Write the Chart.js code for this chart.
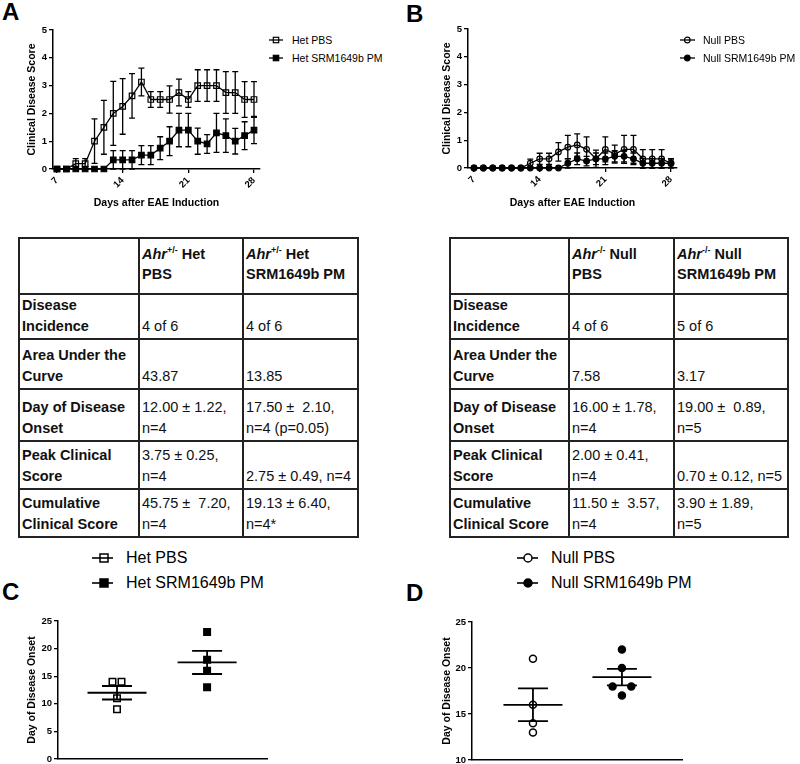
<!DOCTYPE html>
<html>
<head>
<meta charset="utf-8">
<script src="https://cdn.jsdelivr.net/npm/chart.js@4.4.0/dist/chart.umd.min.js"></script>
<style>
  body { margin: 0; background: #fff; font-family: "Liberation Sans", Arial, sans-serif; color: #000; }
  #page { position: relative; width: 800px; height: 764px; overflow: hidden; }
  canvas { position: absolute; }
  .lbl { position: absolute; font-weight: bold; font-size: 24px; line-height: 24px; }
  .leg { position: absolute; white-space: nowrap; }
  .t10 { font-size: 10.5px; line-height: 12px; }
  .t16 { font-size: 16px; line-height: 18px; }
  table { position: absolute; border-collapse: collapse; table-layout: fixed; font-size: 14.5px; color: #111; }
  td { border: 2px solid #222; vertical-align: bottom; padding: 0 0 2px 2px; line-height: 20.7px; white-space: pre; overflow: hidden; }
  td.b { font-weight: bold; }
  tr.hd td { padding-bottom: 8px; }
  sup { font-size: 9px; line-height: 0; vertical-align: 6px; }
</style>
</head>
<body>
<div id="page">
  <div class="lbl" style="left:2px;top:0px">A</div>
  <div class="lbl" style="left:406px;top:2px">B</div>
  <div class="lbl" style="left:2px;top:580px">C</div>
  <div class="lbl" style="left:406px;top:581px">D</div>

  <canvas id="chartA" width="268" height="215" style="left:0;top:0"></canvas>
  <canvas id="chartB" width="290" height="215" style="left:400px;top:0"></canvas>
  <canvas id="chartC" width="280" height="160" style="left:0;top:610px"></canvas>
  <canvas id="chartD" width="290" height="160" style="left:400px;top:610px"></canvas>

  <svg class="leg" style="left:269px;top:35px" width="14" height="10"><line x1="0" y1="5" x2="14" y2="5" stroke="#000" stroke-width="1.3"/><rect x="4.3" y="2.3" width="5.4" height="5.4" fill="none" stroke="#000" stroke-width="1.2"/></svg>
  <div class="leg t10" id="legA1" style="left:292px;top:33.5px"></div>
  <svg class="leg" style="left:269px;top:53px" width="14" height="10"><line x1="0" y1="5" x2="14" y2="5" stroke="#000" stroke-width="1.3"/><rect x="4.3" y="2.3" width="5.4" height="5.4" fill="#000" stroke="#000" stroke-width="1.2"/></svg>
  <div class="leg t10" id="legA2" style="left:292px;top:51.5px"></div>

  <svg class="leg" style="left:680px;top:35px" width="15" height="10"><line x1="0" y1="5" x2="15" y2="5" stroke="#000" stroke-width="1.3"/><circle cx="7.3" cy="5" r="2.8" fill="none" stroke="#000" stroke-width="1.2"/></svg>
  <div class="leg t10" id="legB1" style="left:703px;top:33.5px"></div>
  <svg class="leg" style="left:680px;top:53px" width="15" height="10"><line x1="0" y1="5" x2="15" y2="5" stroke="#000" stroke-width="1.3"/><circle cx="7.3" cy="5" r="2.8" fill="#000" stroke="#000" stroke-width="1.2"/></svg>
  <div class="leg t10" id="legB2" style="left:703px;top:51.5px"></div>

  <svg class="leg" style="left:92px;top:551.5px" width="22" height="12"><line x1="0" y1="6" x2="21" y2="6" stroke="#000" stroke-width="1.6"/><rect x="8" y="2" width="8" height="8" fill="none" stroke="#000" stroke-width="1.5"/></svg>
  <div class="leg t16" id="legC1" style="left:126px;top:548.7px"></div>
  <svg class="leg" style="left:92px;top:577px" width="22" height="12"><line x1="0" y1="6" x2="21" y2="6" stroke="#000" stroke-width="1.6"/><rect x="8" y="2" width="8" height="8" fill="#000" stroke="#000" stroke-width="1.5"/></svg>
  <div class="leg t16" id="legC2" style="left:126px;top:574.2px"></div>

  <svg class="leg" style="left:517px;top:551.5px" width="22" height="12"><line x1="0" y1="6" x2="21" y2="6" stroke="#000" stroke-width="1.6"/><circle cx="11" cy="6" r="4" fill="#fff" stroke="#000" stroke-width="1.5"/></svg>
  <div class="leg t16" id="legD1" style="left:551px;top:548.7px"></div>
  <svg class="leg" style="left:517px;top:577px" width="22" height="12"><line x1="0" y1="6" x2="21" y2="6" stroke="#000" stroke-width="1.6"/><circle cx="11" cy="6" r="4" fill="#000" stroke="#000" stroke-width="1.5"/></svg>
  <div class="leg t16" id="legD2" style="left:551px;top:574.2px"></div>

  <table id="tableA" style="left:18px;top:237px;width:339px"></table>
  <table id="tableB" style="left:449px;top:237px;width:338px"></table>
</div>

<script>
// ---- data ----
const days = [7, 8, 9, 10, 11, 12, 13, 14, 15, 16, 17, 18, 19, 20, 21, 22, 23, 24, 25, 26, 27, 28];
const dayTicks = [7, 14, 21, 28];
const scoreTicks = [0, 1, 2, 3, 4, 5];

const hetPbs    = [0, 0, 0.19, 0.19, 1.0, 1.5, 2.0, 2.25, 2.63, 3.13, 2.5, 2.5, 2.5, 2.75, 2.5, 3.0, 3.0, 3.0, 2.75, 2.75, 2.5, 2.5];
const hetPbsErr = [0, 0, 0.18, 0.18, 0.8, 0.97, 1.15, 1.0, 0.8, 0.5, 0.28, 0.28, 0.49, 0.48, 0.28, 0.57, 0.57, 0.57, 0.75, 0.75, 0.64, 0.64];
const hetPm     = [0, 0, 0, 0, 0, 0, 0.33, 0.33, 0.33, 0.5, 0.5, 0.75, 1.0, 1.4, 1.4, 1.0, 0.9, 1.3, 1.2, 1.0, 1.2, 1.4];
const hetPmErr  = [0, 0, 0, 0, 0, 0, 0.33, 0.33, 0.33, 0.34, 0.34, 0.41, 0.52, 0.6, 0.6, 0.47, 0.34, 0.7, 0.6, 0.46, 0.5, 0.49];

const nullPbs    = [0, 0, 0, 0, 0, 0, 0.17, 0.33, 0.33, 0.58, 0.75, 0.83, 0.67, 0.33, 0.67, 0.5, 0.67, 0.67, 0.33, 0.33, 0.33, 0.17];
const nullPbsErr = [0, 0, 0, 0, 0, 0, 0.15, 0.2, 0.2, 0.33, 0.42, 0.4, 0.45, 0.31, 0.45, 0.32, 0.5, 0.5, 0.33, 0.33, 0.33, 0.15];
const nullPm     = [0, 0, 0, 0, 0, 0, 0, 0, 0, 0, 0.17, 0.33, 0.25, 0.33, 0.33, 0.42, 0.42, 0.33, 0.17, 0.17, 0.17, 0.17];
const nullPmErr  = [0, 0, 0, 0, 0, 0, 0, 0, 0, 0, 0.17, 0.21, 0.17, 0.21, 0.21, 0.2, 0.2, 0.21, 0.17, 0.17, 0.17, 0.17];

const onsetHetPbs  = [14, 14, 11, 9];
const onsetHetPm   = [23, 18, 16, 13];
const onsetNullPbs = [21, 16, 14, 13];
const onsetNullPm  = [22, 20, 18, 18, 17];
const onsetTicksHet  = [0, 5, 10, 15, 20, 25];
const onsetTicksNull = [10, 15, 20, 25];

const hetNames  = ['Het PBS', 'Het SRM1649b PM'];
const nullNames = ['Null PBS', 'Null SRM1649b PM'];

const rowNames = ['Disease\nIncidence', 'Area Under the\nCurve', 'Day of Disease\nOnset', 'Peak Clinical\nScore', 'Cumulative\nClinical Score'];
const hetPbsCells  = ['4 of 6', '43.87', '12.00 ± 1.22,\nn=4', '3.75 ± 0.25,\nn=4', '45.75 ±  7.20,\nn=4'];
const hetPmCells   = ['4 of 6', '13.85', '17.50 ±  2.10,\nn=4 (p=0.05)', '2.75 ± 0.49, n=4', '19.13 ± 6.40,\nn=4*'];
const nullPbsCells = ['4 of 6', '7.58', '16.00 ± 1.78,\nn=4', '2.00 ± 0.41,\nn=4', '11.50 ±  3.57,\nn=4'];
const nullPmCells  = ['5 of 6', '3.17', '19.00 ±  0.89,\nn=5', '0.70 ± 0.12, n=5', '3.90 ± 1.89,\nn=5'];

// ---- shared look ----
Chart.defaults.font.family = "'Liberation Sans', Arial, sans-serif";
Chart.defaults.color = '#000';

const tickFont = { size: 9.5, weight: 'bold' };
const titleFont = { size: 10.5, weight: 'bold' };
const axisGrid = { display: true, drawOnChartArea: false, drawTicks: true, tickLength: 4, color: '#000', lineWidth: 1.3 };
const axisBorder = { display: true, color: '#000', width: 1.5 };

const errorBars = {
  id: 'errorBars',
  afterDatasetsDraw(chart) {
    const { ctx, scales: { x, y } } = chart;
    ctx.save();
    ctx.strokeStyle = '#000';
    ctx.lineWidth = 1.3;
    chart.data.datasets.forEach(ds => {
      if (!ds.errors) return;
      ds.data.forEach((pt, i) => {
        const e = ds.errors[i];
        if (!e) return;
        const px = x.getPixelForValue(pt.x);
        const top = y.getPixelForValue(pt.y + e);
        const bot = y.getPixelForValue(Math.max(pt.y - e, 0));
        ctx.beginPath();
        ctx.moveTo(px, top); ctx.lineTo(px, bot);
        ctx.moveTo(px - 3, top); ctx.lineTo(px + 3, top);
        ctx.moveTo(px - 3, bot); ctx.lineTo(px + 3, bot);
        ctx.stroke();
      });
    });
    ctx.restore();
  }
};

// mean line with SEM whiskers for the onset dot plots
const meanSem = {
  id: 'meanSem',
  beforeDatasetsDraw(chart) {
    const { ctx, scales: { x, y } } = chart;
    ctx.save();
    ctx.strokeStyle = '#000';
    ctx.lineWidth = 1.8;
    chart.data.datasets.forEach(ds => {
      const v = ds.values, n = v.length;
      const m = v.reduce((a, b) => a + b, 0) / n;
      const sd = Math.sqrt(v.reduce((a, b) => a + (b - m) * (b - m), 0) / (n - 1));
      const se = sd / Math.sqrt(n);
      const cx = x.getPixelForValue(ds.group);
      const ym = y.getPixelForValue(m), yt = y.getPixelForValue(m + se), yb = y.getPixelForValue(m - se);
      ctx.beginPath();
      ctx.moveTo(cx - 29.5, ym); ctx.lineTo(cx + 29.5, ym);
      ctx.moveTo(cx, yt); ctx.lineTo(cx, yb);
      ctx.moveTo(cx - 15, yt); ctx.lineTo(cx + 15, yt);
      ctx.moveTo(cx - 15, yb); ctx.lineTo(cx + 15, yb);
      ctx.stroke();
    });
    ctx.restore();
  }
};

function pts(vals) {
  return days.map((d, i) => ({ x: d, y: vals[i] }));
}

// side by side placement for equal values, like Prism does
function spread(values, group, step) {
  const counts = {}, seen = {};
  values.forEach(v => { counts[v] = (counts[v] || 0) + 1; });
  return values.map(v => {
    seen[v] = (seen[v] || 0) + 1;
    return { x: group + (seen[v] - (counts[v] + 1) / 2) * 2 * step, y: v };
  });
}

function lineSet(vals, errs, style, filled, radius) {
  return {
    data: pts(vals), errors: errs,
    borderColor: '#000', borderWidth: 1.3, tension: 0, clip: false,
    pointStyle: style, pointRadius: radius, pointBorderWidth: 1.2,
    pointBorderColor: '#000', pointBackgroundColor: filled ? '#000' : 'rgba(0,0,0,0)'
  };
}

function lineChart(id, sets, o) {
  return new Chart(document.getElementById(id), {
    type: 'line',
    data: { datasets: sets },
    options: {
      responsive: false, animation: false, devicePixelRatio: 1,
      layout: { padding: o.pad },
      plugins: { legend: { display: false }, tooltip: { enabled: false } },
      scales: {
        x: {
          type: 'linear', min: o.xMin, max: o.xMax,
          afterBuildTicks: s => { s.ticks = dayTicks.map(v => ({ value: v })); },
          afterFit: s => { s.height = o.xH; },
          border: axisBorder, grid: axisGrid,
          ticks: { font: tickFont, minRotation: 45, maxRotation: 45, padding: 2 },
          title: { display: true, text: 'Days after EAE Induction', font: titleFont, padding: { top: 0, bottom: 5.7 } }
        },
        y: {
          min: 0, max: 5,
          afterBuildTicks: s => { s.ticks = scoreTicks.map(v => ({ value: v })); },
          afterFit: s => { s.width = o.yW; },
          border: axisBorder, grid: axisGrid,
          ticks: { font: tickFont, padding: 2 },
          title: { display: true, text: 'Clinical Disease Score', font: titleFont, padding: { top: o.yTitle, bottom: 0 } }
        }
      }
    },
    plugins: [errorBars]
  });
}

function dotChart(id, sets, o) {
  return new Chart(document.getElementById(id), {
    type: 'scatter',
    data: { datasets: sets },
    options: {
      responsive: false, animation: false, devicePixelRatio: 1,
      layout: { padding: o.pad },
      plugins: { legend: { display: false }, tooltip: { enabled: false } },
      scales: {
        x: {
          type: 'linear', min: o.xMin, max: o.xMax,
          afterFit: s => { s.height = 0; },
          border: axisBorder, grid: { display: false }, ticks: { display: false }
        },
        y: {
          min: o.ticks[0], max: o.ticks[o.ticks.length - 1],
          afterBuildTicks: s => { s.ticks = o.ticks.map(v => ({ value: v })); },
          afterFit: s => { s.width = o.yW; },
          border: axisBorder, grid: axisGrid,
          ticks: { font: tickFont, padding: 2 },
          title: { display: true, text: 'Day of Disease Onset', font: titleFont, padding: { top: o.yTitle, bottom: 0 } }
        }
      }
    },
    plugins: [meanSem]
  });
}

function dotSet(values, group, step, style, filled, radius) {
  return {
    data: spread(values, group, step), values: values, group: group,
    pointStyle: style, pointRadius: radius, pointBorderWidth: 1.5, clip: false,
    pointBorderColor: '#000', pointBackgroundColor: filled ? '#000' : 'rgba(0,0,0,0)'
  };
}

lineChart('chartA', [
  lineSet(hetPbs, hetPbsErr, 'rect', false, 3.9),
  lineSet(hetPm, hetPmErr, 'rect', true, 3.9)
], { xMin: 6.574, xMax: 28.64, xH: 46, yW: 53, yTitle: 25.7, pad: { left: 0, right: 8, top: 30, bottom: 0 } });

lineChart('chartB', [
  lineSet(nullPbs, nullPbsErr, 'circle', false, 2.8),
  lineSet(nullPm, nullPmErr, 'circle', true, 2.8)
], { xMin: 6.36, xMax: 28.64, xH: 47, yW: 68, yTitle: 40.7, pad: { left: 0, right: 13, top: 29, bottom: 0 } });

dotChart('chartC', [
  dotSet(onsetHetPbs, 1, 0.05, 'rect', false, 4.6),
  dotSet(onsetHetPm, 2, 0.05, 'rect', true, 4.6)
], { xMin: 0.345, xMax: 2.665, yW: 58, yTitle: 25.7, ticks: onsetTicksHet, pad: { left: 0, right: 13, top: 11, bottom: 11 } });

dotChart('chartD', [
  dotSet(onsetNullPbs, 1, 0.105, 'circle', false, 3.5),
  dotSet(onsetNullPm, 2, 0.105, 'circle', true, 3.5)
], { xMin: 0.315, xMax: 2.675, yW: 72, yTitle: 40.7, ticks: onsetTicksNull, pad: { left: 0, right: 8, top: 12, bottom: 10 } });

// legends
document.getElementById('legA1').textContent = hetNames[0];
document.getElementById('legA2').textContent = hetNames[1];
document.getElementById('legB1').textContent = nullNames[0];
document.getElementById('legB2').textContent = nullNames[1];
document.getElementById('legC1').textContent = hetNames[0];
document.getElementById('legC2').textContent = hetNames[1];
document.getElementById('legD1').textContent = nullNames[0];
document.getElementById('legD2').textContent = nullNames[1];

// summary tables
const rowHeights = [56, 42, 50, 52, 48, 48];
function esc(s) { return s.replace(/&/g, '&amp;').replace(/</g, '&lt;'); }
function buildTable(id, sup, group, colA, colB, widths) {
  let html = '<colgroup>' + widths.map(w => '<col style="width:' + w + 'px">').join('') + '</colgroup>';
  html += '<tr class="hd" style="height:' + rowHeights[0] + 'px"><td></td>' +
    '<td class="b"><i>Ahr</i><sup>' + sup + '</sup> ' + group + '\nPBS</td>' +
    '<td class="b"><i>Ahr</i><sup>' + sup + '</sup> ' + group + '\nSRM1649b PM</td></tr>';
  rowNames.forEach((name, i) => {
    html += '<tr style="height:' + rowHeights[i + 1] + 'px"><td class="b">' + esc(name) + '</td><td>' +
      esc(colA[i]) + '</td><td>' + esc(colB[i]) + '</td></tr>';
  });
  document.getElementById(id).innerHTML = html;
}
buildTable('tableA', '+/-', 'Het', hetPbsCells, hetPmCells, [120, 104, 115]);
buildTable('tableB', '-/-', 'Null', nullPbsCells, nullPmCells, [119, 105, 114]);
</script>
</body>
</html>
